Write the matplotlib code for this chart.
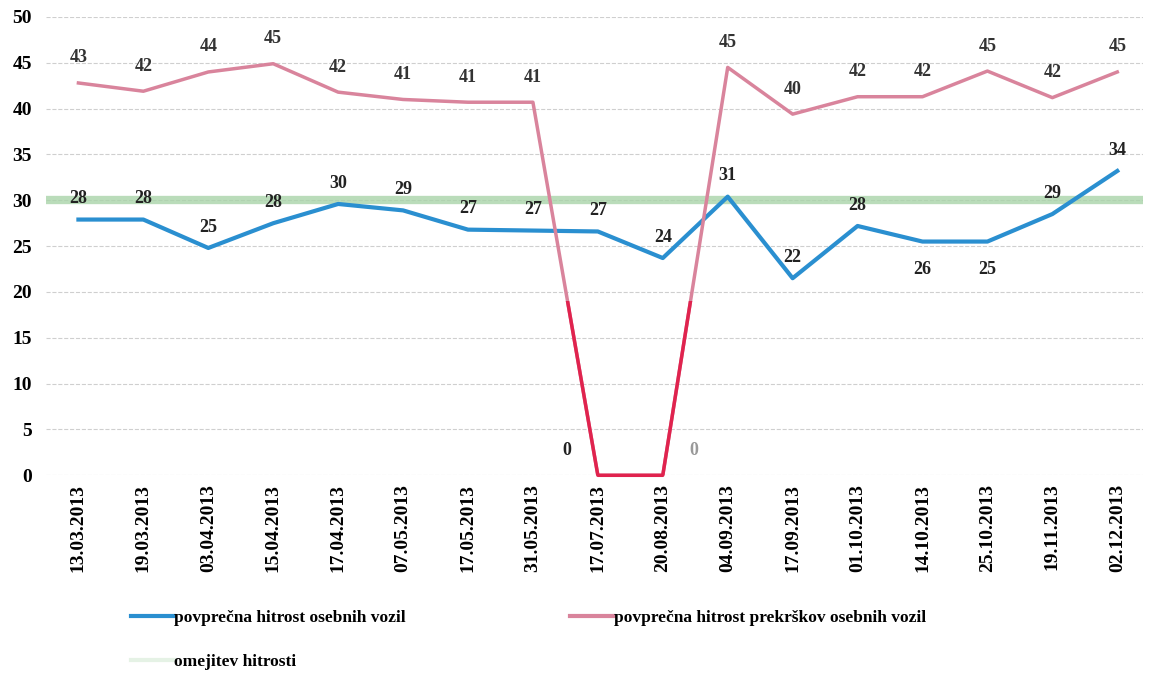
import matplotlib.pyplot as plt
from matplotlib.lines import Line2D
from matplotlib.patches import Rectangle

plt.rcParams['font.family'] = ['Liberation Serif', 'DejaVu Serif']
plt.rcParams['font.weight'] = 'bold'

dates = ['13.03.2013', '19.03.2013', '03.04.2013', '15.04.2013', '17.04.2013',
         '07.05.2013', '17.05.2013', '31.05.2013', '17.07.2013', '20.08.2013',
         '04.09.2013', '17.09.2013', '01.10.2013', '14.10.2013', '25.10.2013',
         '19.11.2013', '02.12.2013']
avg_speed = [27.9, 27.9, 24.8, 27.5, 29.6, 28.9, 26.8, 26.7, 26.6, 23.7,
             30.4, 21.5, 27.2, 25.5, 25.5, 28.5, 33.2]
avg_speed_labels = [28, 28, 25, 28, 30, 29, 27, 27, 27, 24, 31, 22, 28, 26, 25, 29, 34]
violation_speed = [42.8, 41.9, 44.0, 44.9, 41.8, 41.0, 40.7, 40.7, 0, 0,
                   44.5, 39.4, 41.3, 41.3, 44.1, 41.2, 44.0]
violation_labels = [43, 42, 44, 45, 42, 41, 41, 41, 0, 0, 45, 40, 42, 42, 45, 42, 45]
speed_limit = 30

blue = '#2a8fd0'
pink = '#d9849c'
crimson = '#e0234e'
green = '#a9d4a9'

fig = plt.figure(figsize=(11.49, 6.79), dpi=100)
ax = fig.add_axes([0.04, 0.30, 0.955, 0.675])
x = list(range(len(dates)))

# speed limit runs across the whole plot area
ax.axhline(speed_limit, color=green, lw=6, alpha=0.8, zorder=2)
ax.plot(x, avg_speed, color=blue, lw=3, zorder=3)
ax.plot(x, violation_speed, color=pink, lw=2.5, zorder=4)
# lower part of the drop is printed in a stronger red
low, = ax.plot(x, violation_speed, color=crimson, lw=2.5, zorder=5)
low.set_clip_path(Rectangle((-1, -5), 20, 24, transform=ax.transData))

# data labels
below = {13, 14}
for i, (v, lab) in enumerate(zip(avg_speed, avg_speed_labels)):
    dy = -20 if i in below else 15
    ax.annotate(str(lab), (i, v), xytext=(0, dy), textcoords='offset points',
                ha='center', va='center', fontsize=13, color='#222222')
for i, (v, lab) in enumerate(zip(violation_speed, violation_labels)):
    if v == 0:
        dx = -22 if i == 8 else 22
        ax.annotate(str(lab), (i, v), xytext=(dx, 18), textcoords='offset points',
                    ha='center', va='center', fontsize=13,
                    color='#222222' if i == 8 else '#999999')
    else:
        ax.annotate(str(lab), (i, v), xytext=(0, 18), textcoords='offset points',
                    ha='center', va='center', fontsize=13, color='#333333')

ax.set_xlim(-0.5, 16.4)
ax.set_ylim(0, 50)
ax.set_yticks(range(0, 51, 5))
ax.set_xticks(x)
ax.set_xticklabels(dates, rotation=90, fontsize=14)
ax.tick_params(axis='y', labelsize=14, length=0, pad=10)
ax.tick_params(axis='x', length=0, pad=6)
ax.grid(axis='y', linestyle='--', color='#bbbbbb', lw=0.8, alpha=0.7)
for s in ax.spines.values():
    s.set_visible(False)

handles = [Line2D([], [], color=blue, lw=3),
           Line2D([], [], color=green, lw=3, alpha=0.3),
           Line2D([], [], color=pink, lw=3),
           Line2D([], [], color='none')]
labels = ['povprečna hitrost osebnih vozil', 'omejitev hitrosti',
          'povprečna hitrost prekrškov osebnih vozil', '']
fig.legend(handles, labels, loc='lower left', bbox_to_anchor=(0.1, -0.01),
           ncol=2, frameon=False, fontsize=12.5, handlelength=2.5,
           handletextpad=0.0, columnspacing=9.5, labelspacing=1.6)

fig.savefig('out.png', dpi=100)
